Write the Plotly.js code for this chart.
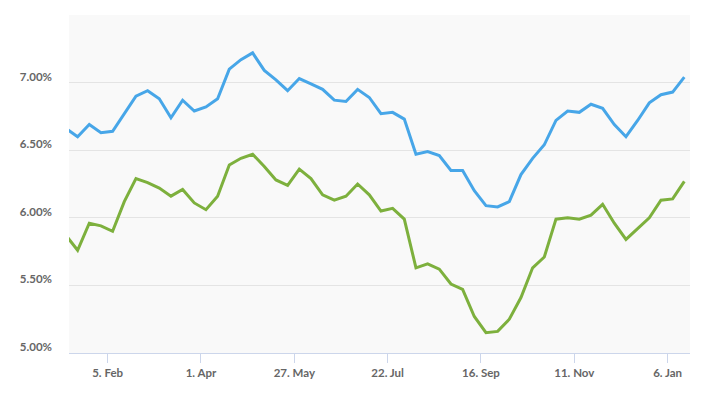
<!DOCTYPE html>
<html>
<head>
<meta charset="utf-8">
<script src="https://cdn.plot.ly/plotly-3.0.1.min.js"></script>
<style>html,body{margin:0;padding:0;background:#fff;}#chart{width:710px;height:393px;}</style>
</head>
<body>
<div id="chart"></div>
<script>
// Weekly dates (Thursdays), Jan 11 2024 – Jan 16 2025
const dates = [
  "2024-01-11","2024-01-18","2024-01-25","2024-02-01","2024-02-08","2024-02-15","2024-02-22","2024-02-29",
  "2024-03-07","2024-03-14","2024-03-21","2024-03-28","2024-04-04","2024-04-11","2024-04-18","2024-04-25",
  "2024-05-02","2024-05-09","2024-05-16","2024-05-23","2024-05-30","2024-06-06","2024-06-13","2024-06-20",
  "2024-06-27","2024-07-04","2024-07-11","2024-07-18","2024-07-25","2024-08-01","2024-08-08","2024-08-15",
  "2024-08-22","2024-08-29","2024-09-05","2024-09-12","2024-09-19","2024-09-26","2024-10-03","2024-10-10",
  "2024-10-17","2024-10-24","2024-10-31","2024-11-07","2024-11-14","2024-11-21","2024-11-28","2024-12-05",
  "2024-12-12","2024-12-19","2024-12-26","2025-01-02","2025-01-09","2025-01-16"
];
const seriesBlue = [
  6.66,6.60,6.69,6.63,6.64,6.77,6.90,6.94,
  6.88,6.74,6.87,6.79,6.82,6.88,7.10,7.17,
  7.22,7.09,7.02,6.94,7.03,6.99,6.95,6.87,
  6.86,6.95,6.89,6.77,6.78,6.73,6.47,6.49,
  6.46,6.35,6.35,6.20,6.09,6.08,6.12,6.32,
  6.44,6.54,6.72,6.79,6.78,6.84,6.81,6.69,
  6.60,6.72,6.85,6.91,6.93,7.04
];
const seriesGreen = [
  5.87,5.76,5.96,5.94,5.90,6.12,6.29,6.26,
  6.22,6.16,6.21,6.11,6.06,6.16,6.39,6.44,
  6.47,6.38,6.28,6.24,6.36,6.29,6.17,6.13,
  6.16,6.25,6.17,6.05,6.07,5.99,5.63,5.66,
  5.62,5.51,5.47,5.27,5.15,5.16,5.25,5.41,
  5.63,5.71,5.99,6.00,5.99,6.02,6.10,5.96,
  5.84,5.92,6.00,6.13,6.14,6.27
];
const xTickVals = ["2024-02-05","2024-04-01","2024-05-27","2024-07-22","2024-09-16","2024-11-11","2025-01-06"];
const xTickText = ["5. Feb","1. Apr","27. May","22. Jul","16. Sep","11. Nov","6. Jan"];
const yTickVals = [5.0,5.5,6.0,6.5,7.0,7.5];
const yTickText = ["5.00%","5.50%","6.00%","6.50%","7.00%",""];

const labelFont = {family: "Lato, 'Open Sans', sans-serif", size: 11.5, color: "#666666", weight: 700};

const traces = [
  {x: dates, y: seriesBlue, type: "scatter", mode: "lines",
   line: {color: "#47a6e8", width: 3}, hoverinfo: "skip"},
  {x: dates, y: seriesGreen, type: "scatter", mode: "lines",
   line: {color: "#7db03d", width: 3}, hoverinfo: "skip"}
];

const layout = {
  width: 710, height: 393,
  margin: {l: 69, r: 20, t: 15, b: 40},
  paper_bgcolor: "#ffffff",
  plot_bgcolor: "#f9f9f9",
  showlegend: false,
  xaxis: {
    type: "date",
    range: ["2024-01-12 20:00", "2025-01-19 10:00"],
    tickvals: xTickVals, ticktext: xTickText,
    showgrid: false, zeroline: false,
    showline: true, linecolor: "#ccd6eb", linewidth: 1,
    ticks: "outside", ticklen: 9, tickcolor: "#ccd6eb", tickwidth: 1,
    tickfont: labelFont
  },
  yaxis: {
    range: [5.0, 7.5],
    tickvals: yTickVals, ticktext: yTickText,
    showgrid: true, gridcolor: "#e4e4e4", gridwidth: 1,
    zeroline: false, showline: false, ticks: "",
    ticklabelshift: -6, ticklabelstandoff: 16,
    tickfont: labelFont
  }
};

Plotly.newPlot("chart", traces, layout, {displayModeBar: false, staticPlot: true});
</script>
</body>
</html>
